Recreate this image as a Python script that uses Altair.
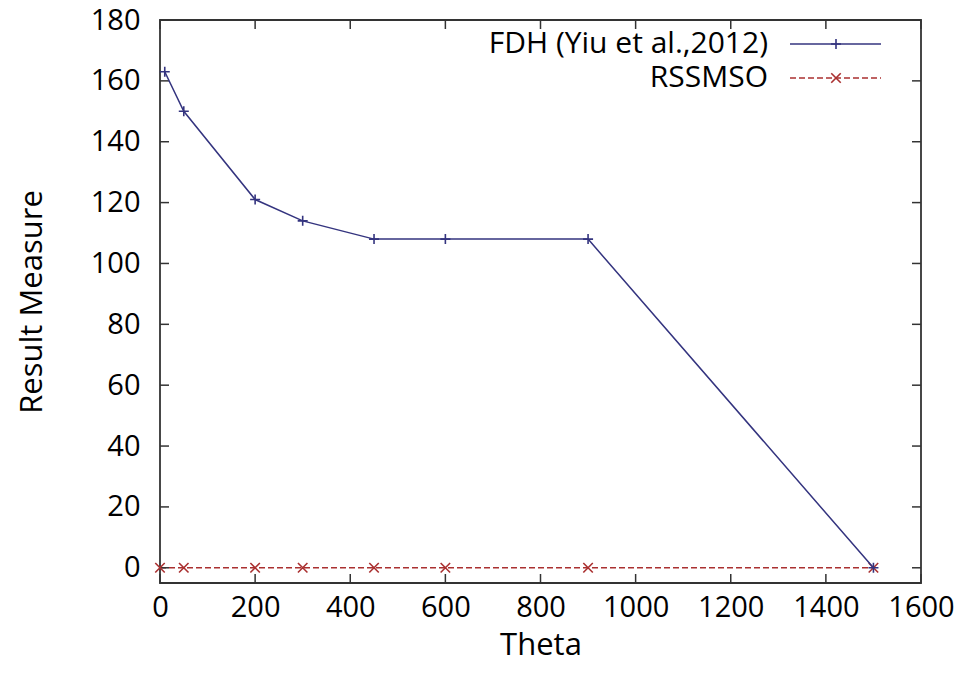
import altair as alt
import pandas as pd

fdh_theta = [10, 50, 200, 300, 450, 600, 900, 1500]
fdh_value = [163, 150, 121, 114, 108, 108, 108, 0]
rss_theta = [0, 50, 200, 300, 450, 600, 900, 1500]
rss_value = [0, 0, 0, 0, 0, 0, 0, 0]
x_ticks = [0, 200, 400, 600, 800, 1000, 1200, 1400, 1600]
y_ticks = [0, 20, 40, 60, 80, 100, 120, 140, 160, 180]
series_names = ["FDH (Yiu et al.,2012)", "RSSMSO"]

BLUE = "#34347f"
RED = "#aa3030"
FONT = "Open Sans"
W, H = 761, 563
PLUS = "M-1,0L1,0M0,-1L0,1"
CROSS = "M-1,-1L1,1M-1,1L1,-1"

fdh = pd.DataFrame({"theta": fdh_theta, "value": fdh_value})
rss = pd.DataFrame({"theta": rss_theta, "value": rss_value})
xt = pd.DataFrame({"t": x_ticks})
yt = pd.DataFrame({"t": y_ticks})

xs = alt.Scale(domain=[0, 1600], nice=False, zero=False)
ys = alt.Scale(domain=[-5, 180], nice=False, zero=False)

xenc = alt.X("theta:Q", scale=xs, axis=alt.Axis(
    title="Theta", values=x_ticks, ticks=False, domain=False, grid=False,
    labelFlush=False, labelOverlap=False,
    labelFont=FONT, labelFontSize=29, labelColor="black", labelPadding=10,
    titleFont=FONT, titleFontSize=31, titleFontWeight="normal", titleColor="black",
    titlePadding=8, format="d"))
yenc = alt.Y("value:Q", scale=ys, axis=alt.Axis(
    title="Result Measure", values=y_ticks, ticks=False, domain=False, grid=False,
    labelFlush=False, labelOverlap=False,
    labelFont=FONT, labelFontSize=29, labelColor="black", labelPadding=20,
    titleFont=FONT, titleFontSize=31, titleFontWeight="normal", titleColor="black",
    titlePadding=42, format="d"))

rss_line = alt.Chart(rss).mark_line(color=RED, strokeWidth=1.5, strokeDash=[6, 3]).encode(x=xenc, y=yenc)
rss_pts = alt.Chart(rss).mark_point(shape=CROSS, size=90, filled=False, color=RED, strokeWidth=1.6, opacity=1).encode(x="theta:Q", y="value:Q")
fdh_line = alt.Chart(fdh).mark_line(color=BLUE, strokeWidth=1.5).encode(x="theta:Q", y="value:Q")
fdh_pts = alt.Chart(fdh).mark_point(shape=PLUS, size=100, filled=False, color=BLUE, strokeWidth=1.6, opacity=1).encode(x="theta:Q", y="value:Q")

tick_color = "#333333"
xb = alt.Chart(xt).mark_rule(color=tick_color, strokeWidth=1.5).encode(
    x=alt.X("t:Q", scale=xs), y=alt.value(H), y2=alt.value(H - 9))
xtop = alt.Chart(xt).mark_rule(color=tick_color, strokeWidth=1.5).encode(
    x=alt.X("t:Q", scale=xs), y=alt.value(0), y2=alt.value(9))
yl = alt.Chart(yt).mark_rule(color=tick_color, strokeWidth=1.5).encode(
    y=alt.Y("t:Q", scale=ys), x=alt.value(0), x2=alt.value(9))
yr = alt.Chart(yt).mark_rule(color=tick_color, strokeWidth=1.5).encode(
    y=alt.Y("t:Q", scale=ys), x=alt.value(W), x2=alt.value(W - 9))

leg = pd.DataFrame({"name": series_names})
leg_text1 = alt.Chart(leg.iloc[[0]]).mark_text(align="right", baseline="middle", font=FONT, fontSize=30, color="black").encode(
    text="name:N", x=alt.value(608), y=alt.value(24))
leg_text2 = alt.Chart(leg.iloc[[1]]).mark_text(align="right", baseline="middle", font=FONT, fontSize=30, color="black").encode(
    text="name:N", x=alt.value(608), y=alt.value(58))
leg_line1 = alt.Chart(leg.iloc[[0]]).mark_rule(color=BLUE, strokeWidth=1.5).encode(
    x=alt.value(630), x2=alt.value(721), y=alt.value(24))
leg_line2 = alt.Chart(leg.iloc[[1]]).mark_rule(color=RED, strokeWidth=1.5, strokeDash=[6, 3]).encode(
    x=alt.value(630), x2=alt.value(721), y=alt.value(58))
leg_pt1 = alt.Chart(leg.iloc[[0]]).mark_point(shape=PLUS, size=100, filled=False, color=BLUE, strokeWidth=1.6, opacity=1).encode(
    x=alt.value(676), y=alt.value(24))
leg_pt2 = alt.Chart(leg.iloc[[1]]).mark_point(shape=CROSS, size=90, filled=False, color=RED, strokeWidth=1.6, opacity=1).encode(
    x=alt.value(676), y=alt.value(58))

chart = alt.layer(
    rss_line, xb, xtop, yl, yr, rss_pts, fdh_line, fdh_pts,
    leg_text1, leg_text2, leg_line1, leg_line2, leg_pt1, leg_pt2
).properties(
    width=W, height=H,
    autosize=alt.AutoSizeParams(type="none"),
    padding={"left": 152, "top": 12, "right": 36, "bottom": 90},
    background="white",
).configure_view(stroke="#333333", strokeWidth=1.8)

chart.save("out.html", embed_options={"renderer": "svg", "actions": False})
